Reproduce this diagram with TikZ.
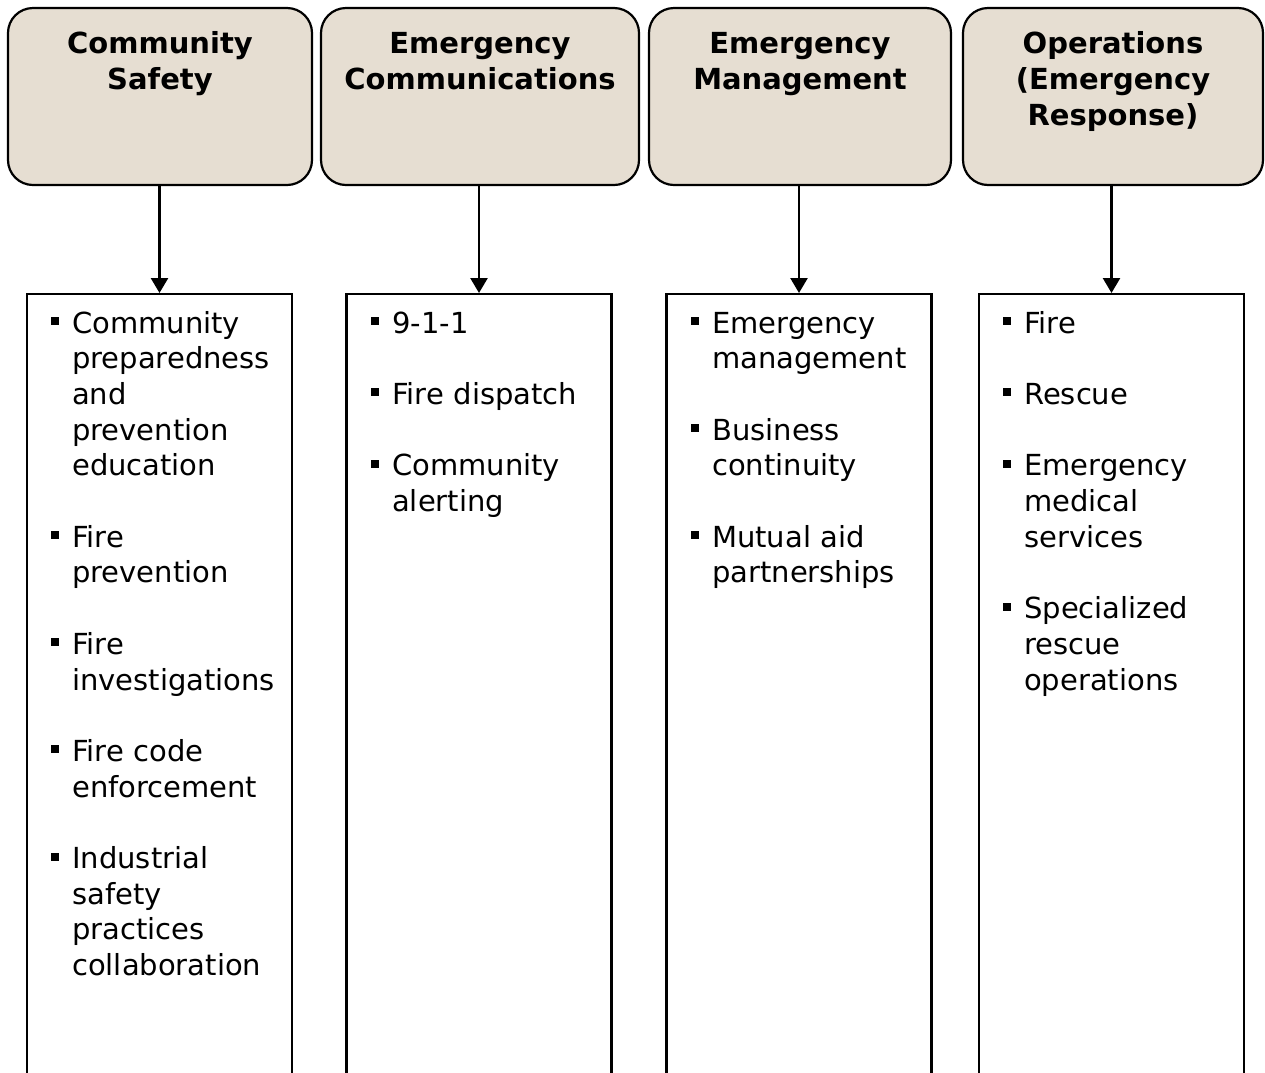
\documentclass[tikz,border=0pt]{standalone}
\usepackage{fontspec}
\setmainfont{DejaVu Sans}
\usetikzlibrary{arrows.meta}
\definecolor{headfill}{RGB}{230,222,210}
\newcommand{\itembullet}{\llap{\rule[8pt]{8pt}{8pt}\hspace{13pt}}}
\tikzset{
  headbox/.style={draw=black, line width=2.2pt, fill=headfill, rounded corners=25pt,
    inner sep=0pt, minimum height=177pt},
  headtext/.style={font=\fontsize{29}{36}\selectfont\bfseries, align=center,
    text width=300pt, inner sep=0pt, anchor=base},
  listbox/.style={draw=black, line width=2.2pt, inner sep=0pt,
    minimum width=265pt, minimum height=800pt, anchor=north},
  itemtext/.style={font=\fontsize{29}{35.7}\selectfont, align=left,
    text width=215pt, inner sep=0pt, anchor=base west},
  conn/.style={draw=black, line width=2.5pt, -{Triangle[width=17pt,length=15pt]}}
}
\begin{document}
\begin{tikzpicture}[x=1pt,y=-1pt]
\useasboundingbox (0,0) rectangle (1265,1072);
\fill[white] (0,0) rectangle (1265,1072);

% header boxes
\node[headbox, minimum width=304pt] (h1) at (160,96.5) {};
\node[headbox, minimum width=318pt] (h2) at (480,96.5) {};
\node[headbox, minimum width=302pt] (h3) at (800,96.5) {};
\node[headbox, minimum width=300pt] (h4) at (1113,96.5) {};

\node[headtext] (t1) at (160,53) {Community\\Safety};
\node[headtext] (t2) at (480,53) {Emergency\\Communications};
\node[headtext] (t3) at (800,53) {Emergency\\Management};
\node[headtext] (t4) at (1113,53) {Operations\\(Emergency\\Response)};

% list boxes
\node[listbox] (b1) at (159.5,293) {};
\node[listbox] (b2) at (479,293) {};
\node[listbox] (b3) at (799,293) {};
\node[listbox] (b4) at (1111.5,293) {};

% connectors
\draw[conn] (h1.south -| b1.north) -- (b1.north);
\draw[conn] (h2.south -| b2.north) -- (b2.north);
\draw[conn] (h3.south -| b3.north) -- (b3.north);
\draw[conn] (h4.south -| b4.north) -- (b4.north);

% Community Safety items
\node[itemtext] (i11) at (72,333) {\itembullet Community\\preparedness\\and\\prevention\\education};
\node[itemtext] (i12) at (72,547.2) {\itembullet Fire\\prevention};
\node[itemtext] (i13) at (72,654.3) {\itembullet Fire\\investigations};
\node[itemtext] (i14) at (72,761.4) {\itembullet Fire code\\enforcement};
\node[itemtext] (i15) at (72,868.5) {\itembullet Industrial\\safety\\practices\\collaboration};

% Emergency Communications items
\node[itemtext] (i21) at (392,333) {\itembullet 9-1-1};
\node[itemtext] (i22) at (392,404.4) {\itembullet Fire dispatch};
\node[itemtext] (i23) at (392,475.8) {\itembullet Community\\alerting};

% Emergency Management items
\node[itemtext] (i31) at (712,333) {\itembullet Emergency\\management};
\node[itemtext] (i32) at (712,440.1) {\itembullet Business\\continuity};
\node[itemtext] (i33) at (712,547.2) {\itembullet Mutual aid\\partnerships};

% Operations items
\node[itemtext] (i41) at (1024,333) {\itembullet Fire};
\node[itemtext] (i42) at (1024,404.4) {\itembullet Rescue};
\node[itemtext] (i43) at (1024,475.8) {\itembullet Emergency\\medical\\services};
\node[itemtext] (i44) at (1024,618.6) {\itembullet Specialized\\rescue\\operations};
\end{tikzpicture}
\end{document}
